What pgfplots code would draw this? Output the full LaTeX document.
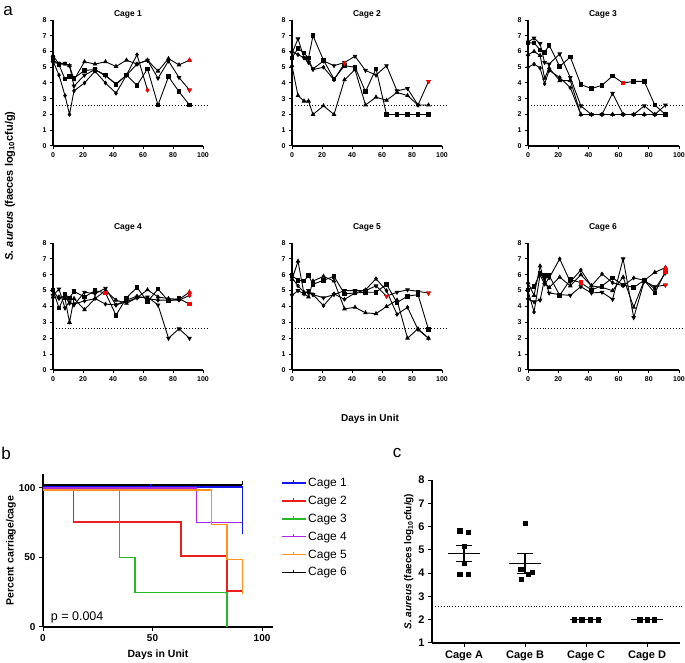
\documentclass[border=0pt]{standalone}
\usepackage{fontspec}
\setmainfont{Liberation Sans}
\usepackage{pgfplots}
\usepackage{pgfplotstable}
\pgfplotsset{compat=1.18}

% panel a data: day, squares (A), down triangles (B), up triangles (C), diamonds (D)
\pgfplotstableread{
day A B C D
0 5.5 5.3 5.75 5.4
4 5.15 5.25 5.2 4.5
8 4.25 5.25 5.2 3.2
11 4.4 5.1 5.1 2.0
14 4.3 3.8 4.2 3.5
21 4.8 4.5 5.35 4.0
28 4.85 4.85 5.2 4.75
35 4.5 4.45 5.35 4.0
42 3.9 3.95 5.05 3.35
49 4.5 4.5 5.45 4.5
56 3.85 5.2 5.2 5.8
63 4.9 5.45 5.45 3.55
70 2.6 4.3 4.75 nan
77 4.4 5.4 5.55 nan
84 3.45 4.35 5.15 nan
91 2.6 3.55 5.45 nan
}\cageone
\pgfplotstableread{
day A B C D
0 5.6 5.9 5.1 6.0
4 6.2 6.8 3.2 5.8
8 5.9 5.6 2.85 5.6
11 5.6 5.3 2.85 5.5
14 7.0 4.9 2.0 4.85
21 5.45 5.4 2.55 5.0
28 4.25 5.1 2.0 4.2
35 5.1 5.3 4.2 5.25
42 5.0 5.7 4.85 nan
49 3.45 4.8 2.6 nan
56 4.9 4.5 3.1 nan
63 2.0 5.1 2.9 nan
70 2.0 3.5 3.4 nan
77 2.0 3.65 3.2 nan
84 2.0 2.6 2.6 nan
91 2.0 4.1 2.6 nan
}\cagetwo
\pgfplotstableread{
day A B C D
0 6.55 6.6 5.8 5.0
4 6.55 6.85 6.0 5.2
8 6.1 6.5 5.75 4.95
11 5.95 5.3 4.3 3.95
14 6.4 5.2 4.95 4.8
21 5.05 5.85 4.15 4.35
28 5.65 4.35 4.15 3.7
35 3.9 2.55 2.0 2.0
42 3.65 2.0 2.0 2.0
49 3.85 2.0 2.0 2.0
56 4.45 3.35 2.0 2.0
63 4.0 2.0 2.0 2.0
70 4.1 2.0 2.0 2.0
77 4.1 2.55 2.0 2.0
84 2.6 2.0 2.0 2.0
91 2.0 2.6 2.0 2.0
}\cagethree
\pgfplotstableread{
day A B C D
0 5.05 4.7 4.6 5.0
4 3.9 5.1 4.6 4.5
8 4.75 3.9 4.5 4.7
11 4.55 4.3 3.0 4.2
14 4.95 4.1 4.5 4.15
21 4.6 4.9 3.8 4.35
28 5.0 4.8 4.5 4.5
35 4.85 5.15 5.0 4.15
42 3.45 4.1 4.4 4.1
49 4.55 4.3 4.2 4.4
56 5.2 4.55 4.55 4.65
63 4.3 4.6 5.05 4.5
70 5.1 4.1 4.6 4.4
77 4.35 2.0 4.5 4.4
84 4.5 2.6 4.45 4.4
91 4.15 2.0 4.9 4.7
}\cagefour
\pgfplotstableread{
day A B C D
0 5.95 4.7 5.7 5.8
4 5.65 5.0 6.85 5.3
8 5.6 4.8 4.8 4.9
11 5.95 5.0 4.6 4.85
14 5.4 4.75 5.6 4.75
21 5.65 4.55 5.9 4.05
28 5.9 4.75 5.6 4.8
35 4.8 5.0 3.85 4.45
42 4.85 5.0 3.95 4.85
49 4.9 5.0 3.6 5.05
56 4.9 5.3 3.55 5.75
63 5.4 4.65 4.0 5.0
70 4.25 4.9 4.4 3.5
77 4.65 5.05 2.0 3.95
84 4.75 4.95 2.6 2.55
91 2.55 4.85 2.0 2.0
}\cagefive
\pgfplotstableread{
day A B C D
0 5.05 4.45 5.5 5.0
4 5.25 4.3 4.7 3.65
8 6.1 4.4 6.55 6.0
11 5.95 5.75 5.5 5.4
14 5.95 4.85 5.2 5.8
21 4.7 4.75 5.85 7.0
28 5.7 4.7 5.3 5.55
35 5.5 5.25 6.0 6.3
42 5.05 4.85 5.3 5.3
49 5.3 4.9 5.2 6.05
56 5.8 4.45 5.0 5.5
63 5.35 7.0 5.85 5.3
70 5.2 3.3 3.95 5.8
77 5.65 5.6 5.65 5.65
84 4.85 5.25 6.15 5.1
91 6.2 5.35 6.45 6.1
}\cagesix

\definecolor{kmblue}{RGB}{20,20,240}
\definecolor{kmred}{RGB}{235,30,30}
\definecolor{kmgreen}{RGB}{40,185,40}
\definecolor{kmpurple}{RGB}{170,40,230}
\definecolor{kmorange}{RGB}{255,145,30}

\pgfplotsset{
  cage/.style={scale only axis, anchor=south west, width=150pt,
    xmin=0, xmax=100, ymin=0, ymax=8, axis lines=left,
    axis line style={-, line width=1.1pt}, tick align=outside,
    major tick length=3pt, tick style={line width=1pt, black},
    xtick={0,20,...,100}, ytick={0,...,8},
    tick label style={font=\bfseries\fontsize{7}{8}\selectfont},
    /pgf/number format/assume math mode=true, clip=false},
  sA/.style={black, line width=0.9pt, mark=square*, mark size=1.8pt},
  sB/.style={black, line width=0.9pt, mark=triangle*, mark size=1.9pt, mark options={rotate=180}},
  sC/.style={black, line width=0.9pt, mark=triangle*, mark size=1.9pt},
  sD/.style={black, line width=0.9pt, mark=diamond*, mark size=1.7pt},
  km/.style={line width=1.4pt, const plot, color=#1},
}

\newcommand\cageplots[1]{%
  \addplot[dotted, line width=0.9pt] coordinates {(0,2.6) (104,2.6)};
  \addplot[sA] table[x=day,y=A]{#1};
  \addplot[sB] table[x=day,y=B]{#1};
  \addplot[sC] table[x=day,y=C]{#1};
  \addplot[sD] table[x=day,y=D]{#1};
}

\begin{document}
\begin{tikzpicture}
\useasboundingbox (0pt,0pt) rectangle (685pt,663pt);

% ---- panel a ----
\begin{axis}[cage, at={(53pt,517pt)}, height=126pt]
\cageplots{\cageone}
\addplot[sC, red, only marks] coordinates {(91,5.45)};
\addplot[sB, red, only marks] coordinates {(91,3.55)};
\addplot[sD, red, only marks] coordinates {(63,3.55)};
\end{axis}
\begin{axis}[cage, at={(292pt,517pt)}, height=126pt]
\cageplots{\cagetwo}
\addplot[sB, red, only marks] coordinates {(91,4.1)};
\addplot[sD, red, only marks] coordinates {(35,5.25)};
\end{axis}
\begin{axis}[cage, at={(528pt,517pt)}, height=126pt, width=151pt]
\cageplots{\cagethree}
\addplot[sA, red, only marks] coordinates {(63,4.0)};
\end{axis}
\begin{axis}[cage, at={(53pt,293pt)}, height=127pt]
\cageplots{\cagefour}
\addplot[sA, red, only marks] coordinates {(91,4.15) (35,4.85)};
\addplot[sC, red, only marks] coordinates {(91,4.9)};
\addplot[sD, red, only marks] coordinates {(91,4.7)};
\end{axis}
\begin{axis}[cage, at={(292pt,293pt)}, height=127pt]
\cageplots{\cagefive}
\addplot[sB, red, only marks] coordinates {(91,4.85) (63,4.65)};
\end{axis}
\begin{axis}[cage, at={(528pt,293pt)}, height=127pt, width=151pt]
\cageplots{\cagesix}
\addplot[sA, red, only marks] coordinates {(35,5.5) (91,6.2)};
\addplot[sB, red, only marks] coordinates {(91,5.35)};
\addplot[sC, red, only marks] coordinates {(91,6.45)};
\end{axis}

\begin{scope}[font=\bfseries\fontsize{8.5}{10}\selectfont]
\node at (128pt,649pt) {Cage 1};
\node at (367pt,649pt) {Cage 2};
\node at (603pt,649pt) {Cage 3};
\node at (128pt,436pt) {Cage 4};
\node at (367pt,436pt) {Cage 5};
\node at (603pt,436pt) {Cage 6};
\end{scope}
\node[font=\bfseries\fontsize{10}{12}\selectfont] at (370pt,244pt) {Days in Unit};
\node[rotate=90, font=\bfseries\fontsize{11}{13}\selectfont] at (10pt,477pt)
  {\textit{S. aureus} (faeces log\textsubscript{10}cfu/g)};
\node[font=\fontsize{17}{19}\selectfont] at (8pt,652pt) {a};
\node[font=\fontsize{17}{19}\selectfont] at (6pt,210pt) {b};
\node[font=\fontsize{17}{19}\selectfont] at (397pt,210pt) {c};

% ---- panel b ----
\begin{axis}[scale only axis, anchor=south west, at={(43pt,36pt)},
  width=230pt, height=153pt, xmin=0, xmax=105, ymin=0, ymax=110,
  axis lines=left, axis line style={-, line width=1.1pt},
  tick align=outside, major tick length=4pt, tick style={line width=1pt, black},
  xtick={0,50,100}, ytick={0,50,100},
  tick label style={font=\bfseries\fontsize{10}{12}\selectfont},
  /pgf/number format/assume math mode=true,
  xlabel={Days in Unit}, ylabel={Percent carriage/cage},
  label style={font=\bfseries\fontsize{10.5}{12}\selectfont},
  xlabel style={yshift=-1pt}, ylabel style={yshift=-4pt},
  legend style={at={(1.02,1.0)}, anchor=north west, draw=none,
    font=\fontsize{12}{14}\selectfont, row sep=4pt},
  legend cell align=left,
  legend image code/.code={\draw[#1] (0pt,0pt) -- (24pt,0pt);
    \draw[#1] (12pt,0pt) -- (12pt,3pt);},
  clip=false]
\addplot[km=kmblue] coordinates {(0,100.7) (91,67)};
\addlegendentry{Cage 1}
\addplot[km=kmred] coordinates {(0,100) (14,75.5) (63,51) (84,26) (91,26)};
\addlegendentry{Cage 2}
\addplot[km=kmgreen] coordinates {(0,99.5) (35,50) (42,25) (84,0)};
\addlegendentry{Cage 3}
\addplot[km=kmpurple] coordinates {(0,99.8) (70,75) (91,75)};
\addlegendentry{Cage 4}
\addplot[km=kmorange] coordinates {(0,98.6) (77,73.5) (84,48.5) (91,24)};
\addlegendentry{Cage 5}
\addplot[km=black] coordinates {(0,102) (91,102)};
\addlegendentry{Cage 6}
\addplot[black, line width=1.2pt, forget plot] coordinates {(91,102) (91,105)};
\addplot[kmblue, line width=1.2pt, forget plot] coordinates {(49,100.7) (49,103)};
\node[anchor=base west, font=\fontsize{12.5}{14}\selectfont] at (axis cs:2,5) {p = 0.004};
\end{axis}

% ---- panel c ----
\begin{axis}[scale only axis, anchor=south west, at={(432pt,20pt)},
  width=248pt, height=163pt, xmin=0.475, xmax=4.54, ymin=1, ymax=8,
  axis lines=left, axis line style={-, line width=1.1pt},
  tick align=outside, major tick length=4pt, tick style={line width=1pt, black},
  xtick={1,2,3,4}, xticklabels={Cage A, Cage B, Cage C, Cage D},
  ytick={1,...,8},
  tick label style={font=\bfseries\fontsize{11}{13}\selectfont},
  /pgf/number format/assume math mode=true,
  ylabel={\textit{S. aureus} (faeces log\textsubscript{10}cfu/g)},
  ylabel style={font=\bfseries\fontsize{10}{12}\selectfont, yshift=-2pt},
  clip=false]
\addplot[dotted, line width=0.9pt] coordinates {(0.475,2.58) (4.6,2.58)};
\addplot[only marks, mark=square*, mark size=2.1pt, black] coordinates {
  (0.93,5.82) (1.07,5.75) (1.0,5.15) (1.0,4.42) (0.93,3.95) (1.07,3.95)
  (2.0,6.15) (1.93,4.18) (2.12,4.05) (2.05,3.95) (1.94,3.75)
  (2.8,2.0) (2.93,2.0) (3.07,2.0) (3.2,2.0)
  (3.88,2.0) (4.0,2.0) (4.12,2.0)};
% means and SEM
\addplot[black, line width=1.2pt] coordinates {(0.74,4.85) (1.26,4.85)};
\addplot[black, line width=1.2pt] coordinates {(0.87,5.2) (1.13,5.2)};
\addplot[black, line width=1.2pt] coordinates {(0.87,4.5) (1.13,4.5)};
\addplot[black, line width=1.2pt] coordinates {(1,4.5) (1,5.2)};
\addplot[black, line width=1.2pt] coordinates {(1.74,4.42) (2.26,4.42)};
\addplot[black, line width=1.2pt] coordinates {(1.87,4.85) (2.13,4.85)};
\addplot[black, line width=1.2pt] coordinates {(1.87,3.98) (2.13,3.98)};
\addplot[black, line width=1.2pt] coordinates {(2,3.98) (2,4.85)};
\addplot[black, line width=1.2pt] coordinates {(2.74,2.0) (3.26,2.0)};
\addplot[black, line width=1.2pt] coordinates {(3.74,2.0) (4.26,2.0)};
\end{axis}
\end{tikzpicture}
\end{document}
